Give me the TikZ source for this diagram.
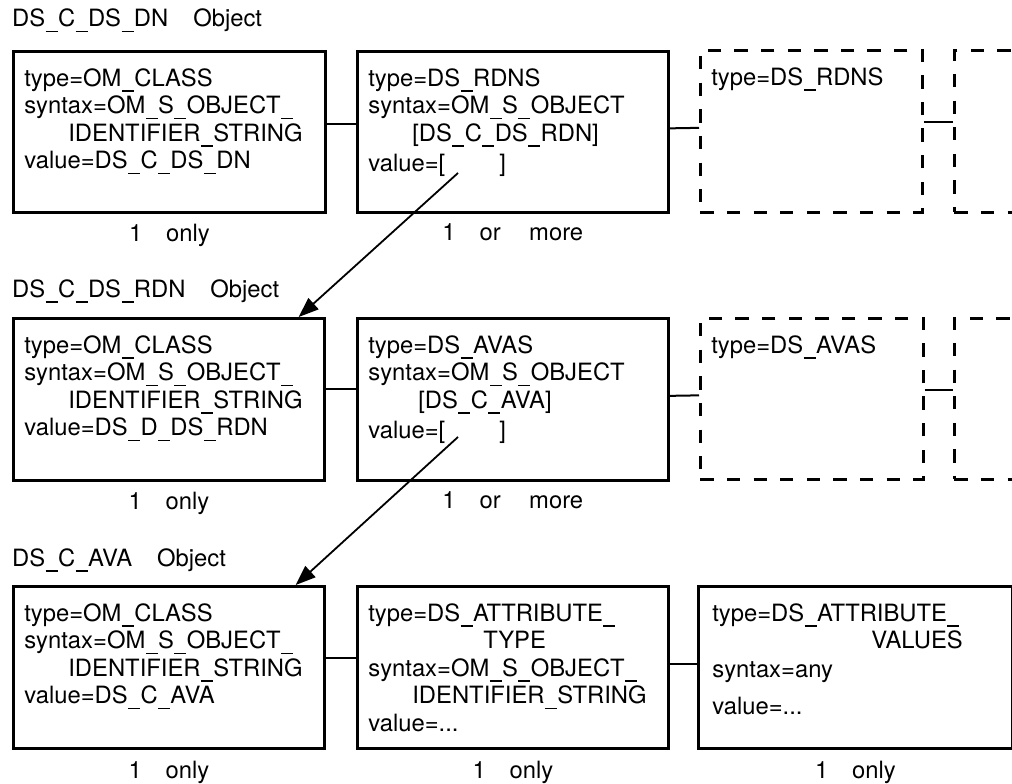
\documentclass[tikz,border=0pt]{standalone}
\usepackage{fontspec}
\setmainfont{TeX Gyre Heros}
\usetikzlibrary{positioning,arrows.meta}

\newcommand{\us}{\kern0.4pt\rule[-5.5pt]{12pt}{1.5pt}\kern0.4pt}
\newcommand{\objtext}[3]{\parbox[t][#2][t]{#1}{\leftskip=11pt\rule{0pt}{35pt}#3}}

\begin{document}
\begin{tikzpicture}[x=1pt,y=-1pt,
  every node/.style={font=\fontsize{23.8}{27.5}\selectfont},
  obj/.style={draw,line width=2.7pt,anchor=north west,inner sep=0pt},
  more/.style={obj,dash pattern=on 13.3pt off 13.3pt},
  link/.style={line width=2pt},
  ptr/.style={line width=1.8pt,-{Triangle[length=20pt,width=15pt]}},
  heading/.style={anchor=base west,inner sep=0pt},
  mult/.style={inner sep=0pt}]
\useasboundingbox (0,0) rectangle (1012,784);
\clip (0,0) rectangle (1012,784);

% DS_C_DS_DN object
\node[heading] (dn-title) at (12,27) {DS\us C\us DS\us DN\hspace{25pt}Object};
\node[obj] (dn-class) at (12,50) {\objtext{312pt}{161pt}{type=OM\us CLASS\\
  syntax=OM\us S\us OBJECT\us\\
  \hspace*{44pt}IDENTIFIER\us STRING\\
  value=DS\us C\us DS\us DN}};
\node[obj] (dn-rdns) at (356,50) {\objtext{311pt}{161pt}{type=DS\us RDNS\\
  syntax=OM\us S\us OBJECT\\
  \hspace*{44pt}[DS\us C\us DS\us RDN]\\[3pt]
  value=[\hspace{54pt}]}};
\node[more] (dn-rdns2) at (699,49) {\objtext{222pt}{162pt}{type=DS\us RDNS}};
\node[more] (dn-rdns3) at (953,49) {\objtext{120pt}{162pt}{}};
\node[mult,below=10pt of dn-class] (dn-class-n) {1\quad only};
\node[mult,below=10pt of dn-rdns] (dn-rdns-n) {1\quad or\hspace{1.2em}more};
\draw[link] ([yshift=7.5pt]dn-class.east) -- ([yshift=7.5pt]dn-rdns.west);
\draw[link] ([yshift=3.5pt]dn-rdns.east) -- ([yshift=3.5pt]dn-rdns2.west);
\draw[link] ([yshift=9pt]dn-rdns2.east) -- ([yshift=9pt]dn-rdns3.west);

% DS_C_DS_RDN object
\node[heading] (rdn-title) at (12,297) {DS\us C\us DS\us RDN\hspace{25pt}Object};
\node[obj] (rdn-class) at (12,317) {\objtext{311pt}{162pt}{type=OM\us CLASS\\
  syntax=OM\us S\us OBJECT\us\\
  \hspace*{44pt}IDENTIFIER\us STRING\\
  value=DS\us D\us DS\us RDN}};
\node[obj] (rdn-avas) at (356,317) {\objtext{311pt}{162pt}{type=DS\us AVAS\\
  syntax=OM\us S\us OBJECT\\
  \hspace*{50pt}[DS\us C\us AVA]\\[3pt]
  value=[\hspace{54pt}]}};
\node[more] (rdn-avas2) at (699,317) {\objtext{223pt}{161pt}{type=DS\us AVAS}};
\node[more] (rdn-avas3) at (953,317) {\objtext{120pt}{161pt}{}};
\node[mult,below=10pt of rdn-class] (rdn-class-n) {1\quad only};
\node[mult,below=10pt of rdn-avas] (rdn-avas-n) {1\quad or\hspace{1.2em}more};
\draw[link] ([yshift=10.5pt]rdn-class.east) -- ([yshift=10.5pt]rdn-avas.west);
\draw[link] ([yshift=3.5pt]rdn-avas.east) -- ([yshift=3.5pt]rdn-avas2.west);
\draw[link] ([yshift=8.5pt]rdn-avas2.east) -- ([yshift=8.5pt]rdn-avas3.west);

% DS_C_AVA object
\node[heading] (ava-title) at (12,566) {DS\us C\us AVA\hspace{25pt}Object};
\node[obj] (ava-class) at (12,585) {\objtext{311pt}{162pt}{type=OM\us CLASS\\
  syntax=OM\us S\us OBJECT\us\\
  \hspace*{44pt}IDENTIFIER\us STRING\\
  value=DS\us C\us AVA}};
\node[obj] (ava-type) at (356,585) {\objtext{311pt}{162pt}{type=DS\us ATTRIBUTE\us\\
  \hspace*{115pt}TYPE\\
  syntax=OM\us S\us OBJECT\us\\
  \hspace*{44pt}IDENTIFIER\us STRING\\
  value=...}};
\node[obj] (ava-values) at (697,585) {\objtext{314pt}{162pt}{\leftskip=14pt type=DS\us ATTRIBUTE\us\\
  \hspace*{159pt}VALUES\\[1pt]
  syntax=any\\[10pt]
  value=...}};
\node[mult,below=11pt of ava-class] (ava-class-n) {1\quad only};
\node[mult,below=11pt of ava-type] (ava-type-n) {1\quad only};
\node[mult,below=11pt of ava-values] (ava-values-n) {1\quad only};
\draw[link] ([yshift=9.5pt]ava-class.east) -- ([yshift=9.5pt]ava-type.west);
\draw[link] ([yshift=3.5pt]ava-type.east) -- ([yshift=3.5pt]ava-values.west);

% value pointers
\coordinate (rdns-val) at (458,173);
\coordinate (avas-val) at (458,437);
\draw[ptr] (rdns-val) -- ([xshift=-27pt]rdn-class.north east);
\draw[ptr] (avas-val) -- ([xshift=-30pt]ava-class.north east);
\end{tikzpicture}
\end{document}
